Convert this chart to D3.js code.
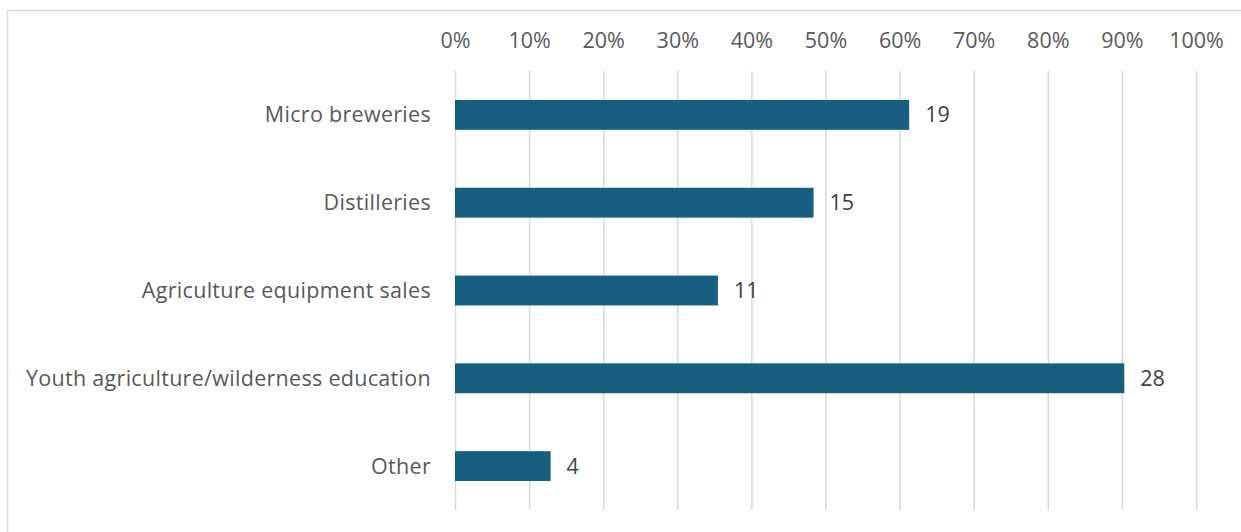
<!DOCTYPE html>
<html><head><meta charset="utf-8">
<script src="https://cdn.jsdelivr.net/npm/d3@7"></script>
<style>body{margin:0;background:#fff;}svg{display:block;}</style>
</head><body>
<svg id="c" width="1241" height="532"></svg>
<script>
const categories = ["Micro breweries","Distilleries","Agriculture equipment sales","Youth agriculture/wilderness education","Other"];
const counts = [19,15,11,28,4];
const total = 31;
const tickValues = [0,0.1,0.2,0.3,0.4,0.5,0.6,0.7,0.8,0.9,1.0];

const svg = d3.select("#c");
const font = "'Open Sans', 'Noto Sans', sans-serif";
svg.append("rect").attr("x",7.5).attr("y",10.5).attr("width",1260).attr("height",540)
  .attr("fill","#fff").attr("stroke","#d9d9d9").attr("stroke-width",1.5);

const x = d3.scaleLinear().domain([0,1]).range([455,1196]);
const y = d3.scaleBand().domain(categories).range([71,510]).paddingInner(0.66).paddingOuter(0.33);

const xAxis = svg.append("g").attr("transform","translate(0,71)")
  .call(d3.axisTop(x).tickValues(tickValues).tickFormat(d3.format(".0%")).tickSize(-439));
xAxis.select(".domain").remove();
xAxis.selectAll(".tick line").attr("stroke","#d9d9d9").attr("stroke-width",1.5);
xAxis.selectAll(".tick text").attr("fill","#595959").attr("font-size","21.5px").attr("font-family",font).attr("y",-31).attr("dy","0.35em");

svg.selectAll("rect.bar").data(categories).join("rect").attr("class","bar")
  .attr("x",x(0)).attr("y",d=>y(d)).attr("height",y.bandwidth())
  .attr("width",(d,i)=>x(counts[i]/total)-x(0)).attr("fill","#175f80");

svg.selectAll("text.cat").data(categories).join("text").attr("class","cat")
  .attr("x",431).attr("y",d=>y(d)+y.bandwidth()/2).attr("dy","0.35em")
  .attr("text-anchor","end").attr("fill","#595959").attr("font-size","21.5px").attr("font-family",font)
  .attr("letter-spacing","0.3px")
  .text(d=>d);

svg.selectAll("text.val").data(categories).join("text").attr("class","val")
  .attr("x",(d,i)=>x(counts[i]/total)+16).attr("y",d=>y(d)+y.bandwidth()/2).attr("dy","0.35em")
  .attr("fill","#404040").attr("font-size","21.5px").attr("font-family",font)
  .text((d,i)=>counts[i]);
</script>
</body></html>
